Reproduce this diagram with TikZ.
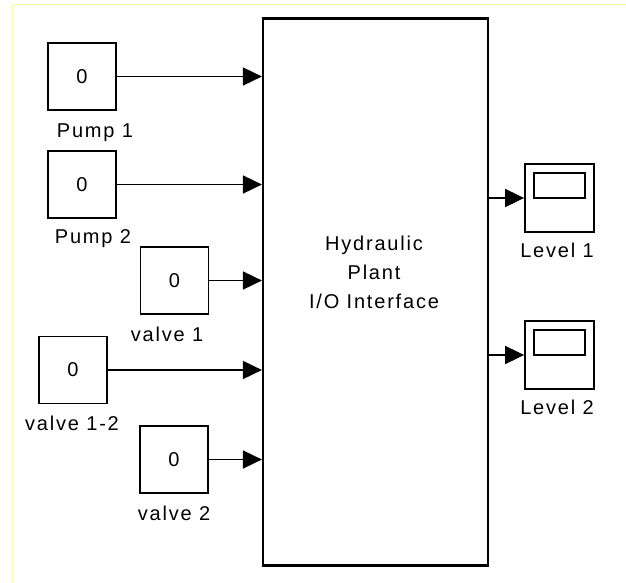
\documentclass[tikz,border=0pt]{standalone}
\usepackage{fontspec}
\setmainfont{Liberation Sans}[LetterSpace=9]
\usepackage{xcolor}
\usepackage{tikz}
\usetikzlibrary{arrows.meta,positioning}

\definecolor{framecol}{RGB}{250,250,160}

\begin{document}
\begin{tikzpicture}[
    x=1pt, y=-1pt,
    every node/.style={font=\fontsize{20}{29}\selectfont},
    const/.style={
      draw, line width=1.8pt, minimum width=68pt, minimum height=67pt,
      inner sep=0pt, font=\fontsize{20}{22}\selectfont
    },
    scopebox/.style={
      draw, line width=1.8pt, minimum width=69pt, minimum height=68pt,
      inner sep=0pt
    },
    screen/.style={
      draw, line width=1.8pt, minimum width=51pt, minimum height=25pt,
      inner sep=0pt
    },
    lbl/.style={anchor=base, inner sep=0pt},
    arrow/.style={line width=1.8pt, -{Triangle[length=19pt,width=18pt]}}
  ]
  \useasboundingbox (0,0) rectangle (626,583);
  \draw[framecol, line width=1pt] (12,583) -- (12,5) -- (626,5);

  % plant block
  \node[draw, line width=2.2pt, minimum width=225pt, minimum height=547pt,
    inner sep=0pt] (plant) at (375.5,292) {};
  \node[align=center, inner sep=0pt] (plantlbl) at (374,272)
    {Hydraulic\\Plant\\I/O Interface};

  % inputs
  \node[const] (p1) at (82,76.5) {0};
  \node[const] (p2) at (82,184.5) {0};
  \node[const] (v1) at (174.5,280.5) {0};
  \node[const] (v12) at (73,370) {0};
  \node[const] (v2) at (174,459.5) {0};

  \node[lbl] (p1l) at (95,137) {Pump 1};
  \node[lbl] (p2l) at (93,243) {Pump 2};
  \node[lbl] (v1l) at (167,341) {valve 1};
  \node[lbl] (v12l) at (72,430) {valve 1-2};
  \node[lbl] (v2l) at (174,520) {valve 2};

  % outputs
  \node[scopebox] (lv1) at (559.5,198) {};
  \node[screen] (lv1s) at (559.5,185.5) {};
  \node[scopebox] (lv2) at (559.5,355) {};
  \node[screen] (lv2s) at (559.5,342.5) {};

  \node[lbl] (lv1l) at (557,257) {Level 1};
  \node[lbl] (lv2l) at (557,414) {Level 2};

  \draw[arrow] (p1) -- (p1 -| plant.west);
  \draw[arrow] (p2) -- (p2 -| plant.west);
  \draw[arrow] (v1) -- (v1 -| plant.west);
  \draw[arrow] (v12) -- (v12 -| plant.west);
  \draw[arrow] (v2) -- (v2 -| plant.west);
  \draw[arrow] (plant.east |- lv1) -- (lv1);
  \draw[arrow] (plant.east |- lv2) -- (lv2);
\end{tikzpicture}
\end{document}
